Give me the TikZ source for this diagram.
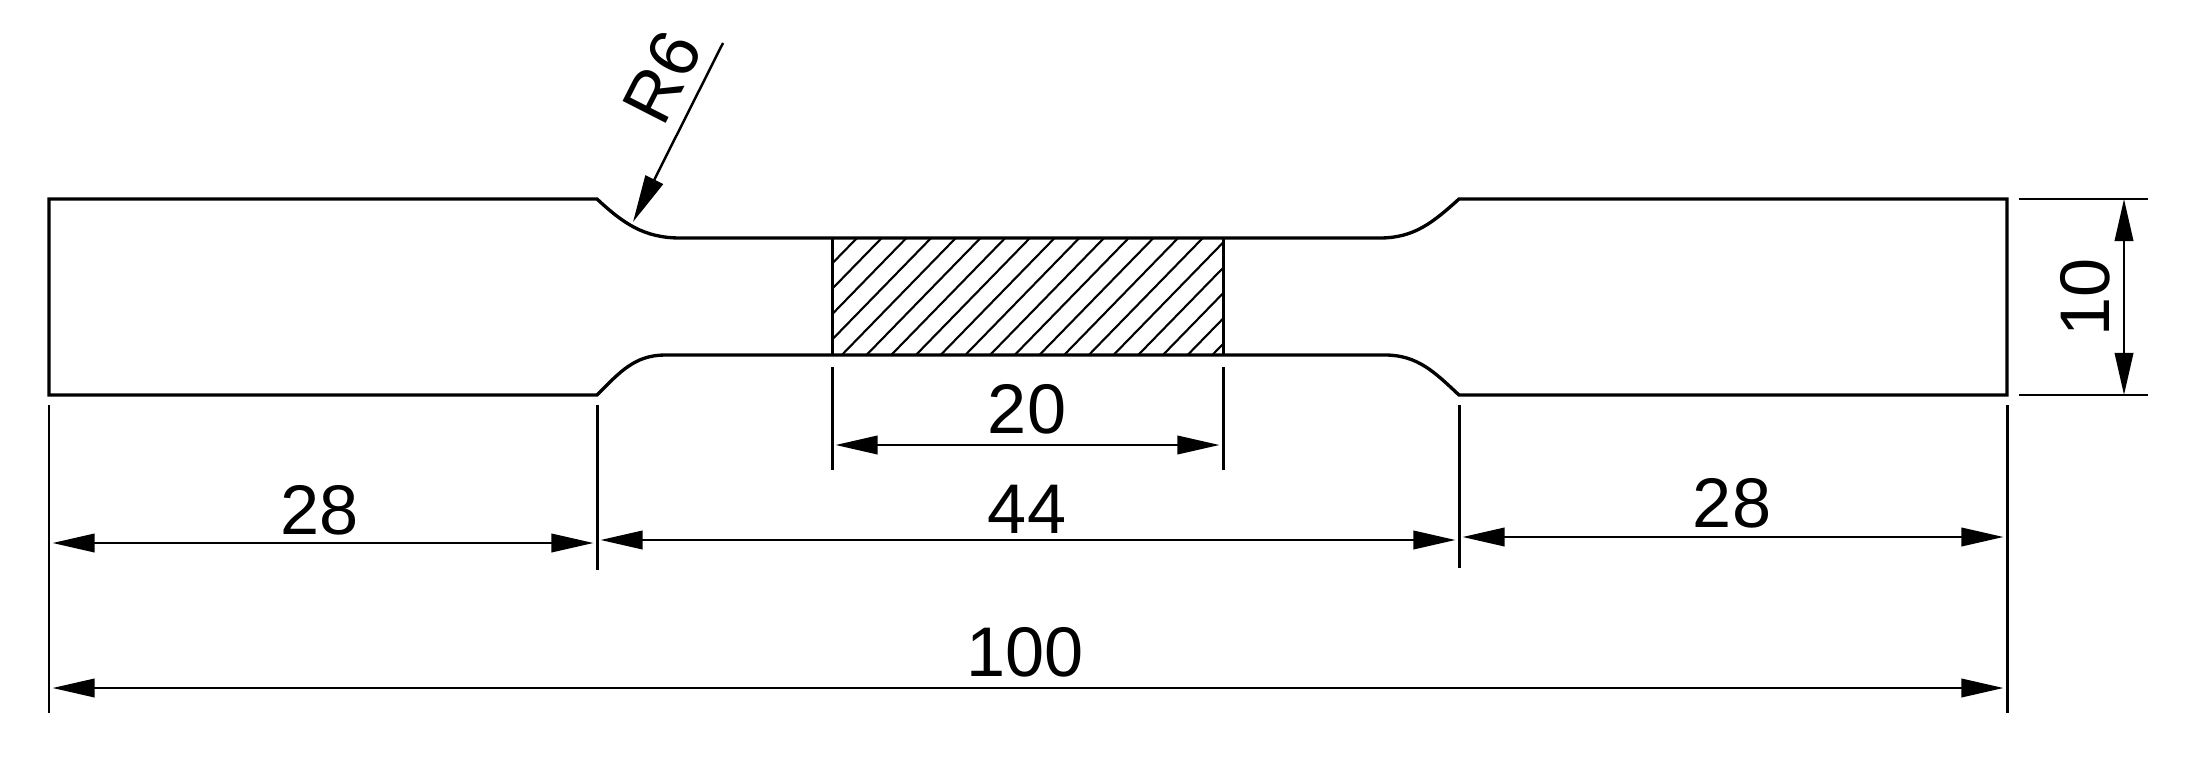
\documentclass[tikz,border=0pt]{standalone}
\usepackage{fontspec}
\setmainfont{Liberation Sans}
\usetikzlibrary{arrows.meta}
\tikzset{
  outline/.style={line width=1.9pt, draw=black},
  hatchline/.style={line width=1.2pt, draw=black},
  extline/.style={line width=1.7pt, draw=black},
  dimline/.style={{Triangle[length=24pt,width=10.5pt]}-{Triangle[length=24pt,width=10.5pt]}, line width=1.4pt, draw=black, shorten <=2pt, shorten >=2pt},
  leaderline/.style={-{Triangle[length=27pt,width=11pt]}, line width=1.4pt, draw=black},
  dimtext/.style={font=\fontsize{40}{48}\selectfont, inner sep=0pt}
}
\begin{document}
\begin{tikzpicture}[x=0.02cm, y=0.02cm]
\useasboundingbox (0,0) rectangle (2211,769);
% specimen corners
\coordinate (TL) at (49,570);
\coordinate (BL) at (49,374);
\coordinate (TR) at (2007,570);
\coordinate (BR) at (2007,374);
\coordinate (NeckTL) at (597,570);
\coordinate (NeckBL) at (597,374);
\coordinate (NeckTR) at (1459,570);
\coordinate (NeckBR) at (1459,374);
\coordinate (WaistTL) at (680,531);
\coordinate (WaistBL) at (665,414);
\coordinate (WaistTR) at (1380,531);
\coordinate (WaistBR) at (1385,414);
% hatched area
\coordinate (HatchTL) at (832,531);
\coordinate (HatchBL) at (832,414);
\coordinate (HatchTR) at (1223,531);
\coordinate (HatchBR) at (1223,414);
\begin{scope}
\clip (HatchBL) rectangle (HatchTR);
\foreach \k in {0,...,20} {
  \coordinate (HatchA\k) at ({857+24.7*\k},531);
  \coordinate (HatchB\k) at ({743+24.7*\k},414);
  \draw [hatchline] (HatchA\k) -- (HatchB\k);
}
\end{scope}
\draw [extline] (HatchTL) -- (HatchBL);
\draw [extline] (HatchTR) -- (HatchBR);
% outline
\draw [outline] (TL) -- (NeckTL) to[out=-43,in=180] (WaistTL) -- (WaistTR)
  to[out=0,in=222] (NeckTR) -- (TR) -- (BR) -- (NeckBR)
  to[out=137,in=0] (WaistBR) -- (WaistBL)
  to[out=180,in=45] (NeckBL) -- (BL) -- cycle;
% extension lines
\coordinate (ExtA1) at (49,364);
\coordinate (ExtA2) at (49,56);
\coordinate (ExtB1) at (597,364);
\coordinate (ExtB2) at (597,199);
\coordinate (ExtC1) at (832,402);
\coordinate (ExtC2) at (832,299);
\coordinate (ExtD1) at (1223,402);
\coordinate (ExtD2) at (1223,299);
\coordinate (ExtE1) at (1459,364);
\coordinate (ExtE2) at (1459,201);
\coordinate (ExtF1) at (2007,364);
\coordinate (ExtF2) at (2007,56);
\coordinate (ExtG1) at (2019,570);
\coordinate (ExtG2) at (2148,570);
\coordinate (ExtH1) at (2019,374);
\coordinate (ExtH2) at (2148,374);
\path [extline] (ExtA1) edge (ExtA2);
\path [extline] (ExtB1) edge (ExtB2);
\path [extline] (ExtC1) edge (ExtC2);
\path [extline] (ExtD1) edge (ExtD2);
\path [extline] (ExtE1) edge (ExtE2);
\path [extline] (ExtF1) edge (ExtF2);
\path [extline] (ExtG1) edge (ExtG2);
\path [extline] (ExtH1) edge (ExtH2);
% dimension lines
\coordinate (DimA1) at (49,226);
\coordinate (DimA2) at (597,226);
\coordinate (DimB1) at (597,229);
\coordinate (DimB2) at (1459,229);
\coordinate (DimC1) at (1459,232);
\coordinate (DimC2) at (2007,232);
\coordinate (DimD1) at (832,324);
\coordinate (DimD2) at (1223,324);
\coordinate (DimE1) at (49,81);
\coordinate (DimE2) at (2007,81);
\coordinate (DimF1) at (2124,570);
\coordinate (DimF2) at (2124,374);
\draw [dimline] (DimA1) -- (DimA2);
\draw [dimline] (DimB1) -- (DimB2);
\draw [dimline] (DimC1) -- (DimC2);
\draw [dimline] (DimD1) -- (DimD2);
\draw [dimline] (DimE1) -- (DimE2);
\draw [dimline, shorten <=0pt, shorten >=0pt] (DimF1) -- (DimF2);
% radius leader
\coordinate (LeaderStart) at (723,726);
\coordinate (LeaderEnd) at (633,547);
\draw [leaderline] (LeaderStart) -- (LeaderEnd);
% labels
\node[dimtext] (left28) at (320,259) {28};
\node[dimtext] (mid44) at (1027,260) {44};
\node[dimtext] (right28) at (1732,266) {28};
\node[dimtext] (gauge20) at (1027,360) {20};
\node[dimtext] (total100) at (1025,117) {100};
\node[dimtext, rotate=90] (width10) at (2085,472) {10};
\node[dimtext, rotate=63] (radiusR6) at (662,692) {R6};
\end{tikzpicture}
\end{document}
